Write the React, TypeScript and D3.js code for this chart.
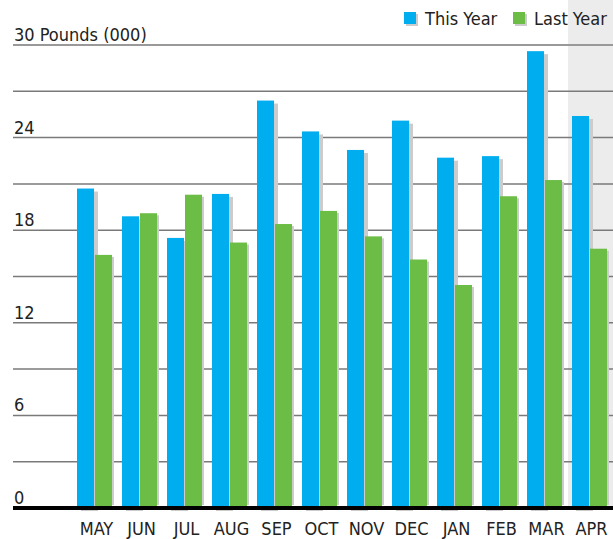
import React, { useEffect, useRef } from 'react'
import * as d3 from 'd3'

const months = ['MAY', 'JUN', 'JUL', 'AUG', 'SEP', 'OCT', 'NOV', 'DEC', 'JAN', 'FEB', 'MAR', 'APR']
const thisYear = [20.7, 18.9, 17.5, 20.35, 26.4, 24.4, 23.2, 25.1, 22.7, 22.8, 29.6, 25.4]
const lastYear = [16.4, 19.1, 20.3, 17.2, 18.4, 19.25, 17.6, 16.1, 14.45, 20.2, 21.25, 16.8]
const seriesNames = ['This Year', 'Last Year']
const labelTicks = [0, 6, 12, 18, 24]
const gridTicks = d3.range(0, 31, 3)

const colors = ['#00aeef', '#6bbd45']
const shadow = '#cccccc'
const font = '"DejaVu Sans", sans-serif'

const App = () => {
  const ref = useRef<SVGSVGElement>(null)

  useEffect(() => {
    const width = 613
    const height = 539
    const svg = d3.select(ref.current)
    svg.selectAll('*').remove()
    svg.attr('width', width).attr('height', height)

    const x = d3.scaleBand().domain(months).range([72, 612]).paddingInner(2 / 9).paddingOuter(1 / 9)
    const xs = d3.scaleBand().domain(seriesNames).range([0, x.bandwidth()]).paddingInner(1 / 18)
    const y = d3.scaleLinear().domain([0, 30]).range([508, 45])

    const txt = (sel: any) => sel
      .attr('font-family', font).attr('font-stretch', 'condensed')
      .attr('font-size', 18).attr('fill', '#222')

    // highlighted current month
    svg.append('rect')
      .attr('x', x('APR')! - 4).attr('y', 0)
      .attr('width', width - x('APR')! + 4).attr('height', y(0))
      .attr('fill', '#ececec')

    // gridlines
    svg.append('g').selectAll('line')
      .data(gridTicks.filter(d => d > 0))
      .enter().append('line')
      .attr('x1', 13).attr('x2', width)
      .attr('y1', d => y(d)).attr('y2', d => y(d))
      .attr('stroke', d => d === 30 ? '#999' : '#7a7a7a')
      .attr('stroke-width', d => d === 30 ? 2 : 1.5)

    // y labels
    svg.append('g').selectAll('text')
      .data(labelTicks)
      .enter().append('text')
      .attr('x', 14).attr('y', d => y(d) - 4)
      .call(txt)
      .text(d => d)
    svg.append('text')
      .attr('x', 14).attr('y', y(30) - 4)
      .call(txt)
      .text('30 Pounds (000)')

    const series = [thisYear, lastYear]
    const groups = svg.append('g').selectAll('g')
      .data(months)
      .enter().append('g')
      .attr('transform', d => `translate(${x(d)},0)`)

    // shadows (blue one pokes out below the baseline)
    const shOff = [[4, 3, 3], [2, 2, -3]]
    series.forEach((vals, s) => {
      groups.append('rect')
        .attr('x', xs(seriesNames[s])! + shOff[s][0])
        .attr('y', (d, i) => y(vals[i]) + shOff[s][1])
        .attr('width', xs.bandwidth())
        .attr('height', (d, i) => y(0) - y(vals[i]) - shOff[s][1] + shOff[s][2])
        .attr('fill', shadow)
    })
    series.forEach((vals, s) => {
      groups.append('rect')
        .attr('x', xs(seriesNames[s])!)
        .attr('y', (d, i) => y(vals[i]))
        .attr('width', xs.bandwidth())
        .attr('height', (d, i) => y(0) - y(vals[i]))
        .attr('fill', colors[s])
    })

    // baseline
    svg.append('line')
      .attr('x1', 13).attr('x2', width)
      .attr('y1', y(0)).attr('y2', y(0))
      .attr('stroke', '#000').attr('stroke-width', 4)

    // x labels
    svg.append('g').selectAll('text')
      .data(months)
      .enter().append('text')
      .attr('x', d => x(d)! + x.bandwidth() / 2 + 2)
      .attr('y', 535)
      .attr('text-anchor', 'middle')
      .call(txt)
      .text(d => d)

    // legend
    const legendX = [404, 513]
    const legendTextX = [425, 534]
    seriesNames.forEach((name, i) => {
      const g = svg.append('g').attr('transform', `translate(${legendX[i]},12)`)
      g.append('rect').attr('x', 2).attr('y', 2).attr('width', 12).attr('height', 12).attr('fill', shadow)
      g.append('rect').attr('width', 12).attr('height', 12).attr('fill', colors[i])
      svg.append('text')
        .attr('x', legendTextX[i]).attr('y', 25)
        .call(txt)
        .text(name)
    })
  }, [])

  return <svg ref={ref} style={{ position: 'absolute', left: 0, top: 0 }}></svg>
}

export default App
